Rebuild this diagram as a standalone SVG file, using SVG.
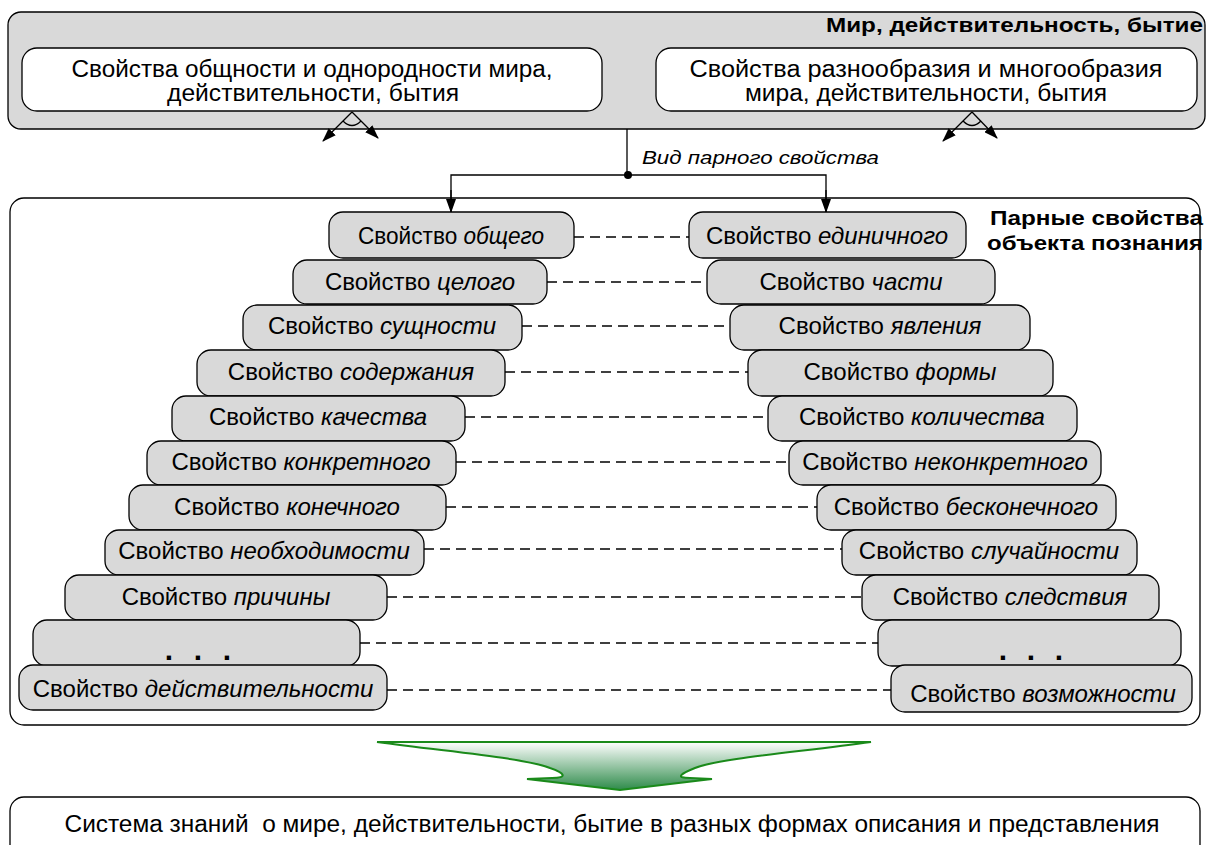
<svg xmlns="http://www.w3.org/2000/svg" width="1207" height="845" viewBox="0 0 1207 845">
<style>
text{font-family:"Liberation Sans",Arial,sans-serif;fill:#000}
.t23{font-size:23px}
.t22{font-size:24px}
.pill{fill:#d9d9d9;stroke:#000;stroke-width:1.3}
.wb{fill:#fff;stroke:#000;stroke-width:1.3}
.i{font-style:italic}
.b{font-weight:bold;font-size:20px}
.dash{stroke:#000;stroke-width:1.4;stroke-dasharray:10 6;fill:none}
.ln{stroke:#000;stroke-width:1.3;fill:none}
.dots{font-size:30px;font-weight:bold}
</style>
<defs>
<marker id="ah" markerUnits="userSpaceOnUse" markerWidth="14" markerHeight="10" refX="13" refY="5" orient="auto">
<path d="M0,0 L14,5 L0,10 Z" fill="#000"/>
</marker>
<linearGradient id="gg" x1="0" y1="0" x2="0" y2="1">
<stop offset="0" stop-color="#ffffff"/>
<stop offset="1" stop-color="#2e8b4a"/>
</linearGradient>
</defs>

<g id="world">
<rect x="8" y="12" width="1197" height="117" rx="13" class="pill"/>
<text class="b" x="1203" y="32" text-anchor="end" textLength="377" lengthAdjust="spacingAndGlyphs">Мир, действительность, бытие</text>
</g>
<g id="common">
<rect x="22" y="48" width="580" height="63" rx="15" class="wb"/>
<text class="t23" x="312" y="77" text-anchor="middle" textLength="481" lengthAdjust="spacingAndGlyphs">Свойства общности и однородности мира,</text>
<text class="t23" x="313" y="101" text-anchor="middle" textLength="292" lengthAdjust="spacingAndGlyphs">действительности, бытия</text>
</g>
<g id="diverse">
<rect x="656" y="48" width="541" height="63" rx="15" class="wb"/>
<text class="t23" x="926" y="77" text-anchor="middle" textLength="473" lengthAdjust="spacingAndGlyphs">Свойства разнообразия и многообразия</text>
<text class="t23" x="926" y="101" text-anchor="middle" textLength="362" lengthAdjust="spacingAndGlyphs">мира, действительности, бытия</text>
</g>

<g id="pairs">
<rect x="10" y="198" width="1190" height="527" rx="14" class="wb"/>
<text class="b" x="1203" y="225" text-anchor="end" textLength="213" lengthAdjust="spacingAndGlyphs">Парные свойства</text>
<text class="b" x="1203" y="250" text-anchor="end" textLength="216" lengthAdjust="spacingAndGlyphs">объекта познания</text>
</g>

<g id="connectors">
<path class="ln" d="M352,112 L323,141" marker-end="url(#ah)"/>
<path class="ln" d="M352,112 L378,138" marker-end="url(#ah)"/>
<path class="ln" d="M343,121 Q352,130 361,121"/>
<path class="ln" d="M972,112 L943,141" marker-end="url(#ah)"/>
<path class="ln" d="M972,112 L997,138" marker-end="url(#ah)"/>
<path class="ln" d="M963,121 Q972,130 981,121"/>
<path class="ln" d="M627,129 V175"/>
<path class="ln" d="M451,212 V175 H826 V212"/>
<path class="ln" d="M451,190 V212" marker-end="url(#ah)"/>
<path class="ln" d="M826,190 V212" marker-end="url(#ah)"/>
<circle cx="628" cy="175" r="4" fill="#000"/>
<text x="642" y="164" style="font-size:19px;font-style:italic" textLength="237" lengthAdjust="spacingAndGlyphs">Вид парного свойства</text>
<path class="dash" d="M574,237 H689"/>
<path class="dash" d="M547,282 H707"/>
<path class="dash" d="M522,326 H730"/>
<path class="dash" d="M505,372 H748"/>
<path class="dash" d="M465,417 H768"/>
<path class="dash" d="M456,462 H789"/>
<path class="dash" d="M446,507 H817"/>
<path class="dash" d="M424,549 H842"/>
<path class="dash" d="M387,597 H862"/>
<path class="dash" d="M360,643 H878"/>
<path class="dash" d="M387,690 H891"/>
</g>

<g id="l1"><rect class="pill" x="329" y="212" width="245" height="46" rx="14"/><text class="t22" x="451" y="244" text-anchor="middle" textLength="186" lengthAdjust="spacingAndGlyphs">Свойство <tspan class="i">общего</tspan></text></g>
<g id="r1"><rect class="pill" x="689" y="212" width="277" height="46" rx="14"/><text class="t22" x="827" y="244" text-anchor="middle">Свойство <tspan class="i">единичного</tspan></text></g>
<g id="l2"><rect class="pill" x="293" y="260" width="254" height="44" rx="14"/><text class="t22" x="420" y="290" text-anchor="middle">Свойство <tspan class="i">целого</tspan></text></g>
<g id="r2"><rect class="pill" x="707" y="260" width="288" height="44" rx="14"/><text class="t22" x="851" y="290" text-anchor="middle">Свойство <tspan class="i">части</tspan></text></g>
<g id="l3"><rect class="pill" x="243" y="305" width="279" height="45" rx="14"/><text class="t22" x="382" y="334" text-anchor="middle">Свойство <tspan class="i">сущности</tspan></text></g>
<g id="r3"><rect class="pill" x="730" y="305" width="300" height="45" rx="14"/><text class="t22" x="880" y="334" text-anchor="middle">Свойство <tspan class="i">явления</tspan></text></g>
<g id="l4"><rect class="pill" x="197" y="350" width="308" height="46" rx="14"/><text class="t22" x="351" y="380" text-anchor="middle">Свойство <tspan class="i">содержания</tspan></text></g>
<g id="r4"><rect class="pill" x="748" y="350" width="305" height="46" rx="14"/><text class="t22" x="900" y="380" text-anchor="middle">Свойство <tspan class="i">формы</tspan></text></g>
<g id="l5"><rect class="pill" x="172" y="396" width="293" height="45" rx="14"/><text class="t22" x="318" y="425" text-anchor="middle">Свойство <tspan class="i">качества</tspan></text></g>
<g id="r5"><rect class="pill" x="768" y="396" width="309" height="45" rx="14"/><text class="t22" x="922" y="425" text-anchor="middle">Свойство <tspan class="i">количества</tspan></text></g>
<g id="l6"><rect class="pill" x="147" y="441" width="309" height="44" rx="14"/><text class="t22" x="301" y="470" text-anchor="middle">Свойство <tspan class="i">конкретного</tspan></text></g>
<g id="r6"><rect class="pill" x="789" y="441" width="312" height="44" rx="14"/><text class="t22" x="945" y="470" text-anchor="middle">Свойство <tspan class="i">неконкретного</tspan></text></g>
<g id="l7"><rect class="pill" x="129" y="485" width="317" height="45" rx="14"/><text class="t22" x="287" y="515" text-anchor="middle">Свойство <tspan class="i">конечного</tspan></text></g>
<g id="r7"><rect class="pill" x="817" y="485" width="299" height="45" rx="14"/><text class="t22" x="966" y="515" text-anchor="middle">Свойство <tspan class="i">бесконечного</tspan></text></g>
<g id="l8"><rect class="pill" x="105" y="530" width="319" height="45" rx="14"/><text class="t22" x="264" y="559" text-anchor="middle">Свойство <tspan class="i">необходимости</tspan></text></g>
<g id="r8"><rect class="pill" x="842" y="530" width="295" height="45" rx="14"/><text class="t22" x="989" y="559" text-anchor="middle">Свойство <tspan class="i">случайности</tspan></text></g>
<g id="l9"><rect class="pill" x="65" y="575" width="322" height="45" rx="14"/><text class="t22" x="226" y="605" text-anchor="middle">Свойство <tspan class="i">причины</tspan></text></g>
<g id="r9"><rect class="pill" x="862" y="575" width="297" height="45" rx="14"/><text class="t22" x="1010" y="605" text-anchor="middle">Свойство <tspan class="i">следствия</tspan></text></g>
<g id="l10"><rect class="pill" x="33" y="620" width="327" height="46" rx="14"/><text class="dots" x="169 198 227" y="660" text-anchor="middle">...</text></g>
<g id="r10"><rect class="pill" x="878" y="620" width="303" height="46" rx="14"/><text class="dots" x="1003 1031 1059" y="660" text-anchor="middle">...</text></g>
<g id="l11"><rect class="pill" x="19" y="665" width="368" height="45" rx="14"/><text class="t22" x="203" y="697" text-anchor="middle">Свойство <tspan class="i">действительности</tspan></text></g>
<g id="r11"><rect class="pill" x="891" y="665" width="301" height="47" rx="14"/><text class="t22" x="1043" y="702" text-anchor="middle">Свойство <tspan class="i">возможности</tspan></text></g>

<g id="arrow">
<path d="M377,742 L871,742 C800,752 720,758 695,768 C680,774 675,778 690,778 L712,779 L620,790 L527,779 L552,778 C568,778 565,773 550,768 C525,758 450,752 377,742 Z" fill="url(#gg)" stroke="#1a8a1a" stroke-width="2"/>
</g>

<g id="system">
<rect x="10" y="797" width="1190" height="70" rx="14" class="wb"/>
<text class="t23" x="612" y="832" text-anchor="middle" xml:space="preserve" textLength="1095" lengthAdjust="spacingAndGlyphs">Система знаний  о мире, действительности, бытие в разных формах описания и представления</text>
</g>
</svg>
